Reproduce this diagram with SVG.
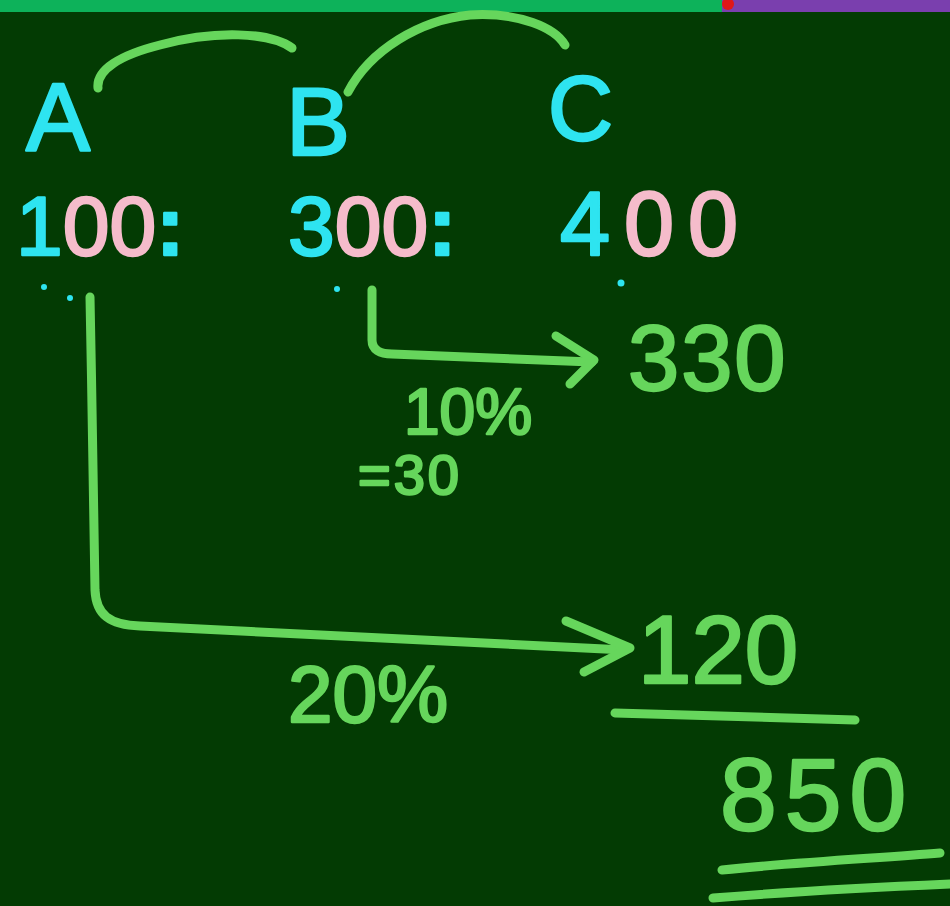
<svg xmlns="http://www.w3.org/2000/svg" width="950" height="906" viewBox="0 0 950 906">
<defs>
<style>
.bg{fill:#033b03}
.ln{fill:none;stroke:#66d65c;stroke-width:9;stroke-linecap:round;stroke-linejoin:round}
.t{font-family:"Liberation Sans","Open Sans",sans-serif;stroke-width:2.5;stroke-linejoin:round}
.cy{fill:#2ee4f0;stroke:#2ee4f0}
.pk{fill:#f5bccb;stroke:#f5bccb}
.gr{fill:#66d65c;stroke:#66d65c}
</style>
</defs>
<rect class="bg" x="0" y="0" width="950" height="906"/>
<rect x="0" y="0" width="722" height="12" fill="#0db25a"/>
<rect x="722" y="0" width="228" height="12" fill="#7a3fae"/>
<circle cx="728" cy="4" r="6" fill="#e01818"/>

<g id="connectors">
<path class="ln" d="M98,88 C96,70 120,55 160,45 C215,30 270,32 292,48"/>
<path class="ln" d="M348,92 C370,50 420,20 470,15 C520,12 555,28 565,45"/>
<path class="ln" d="M90,297 C92,400 94,520 95,590 C96,615 110,625 140,626 L625,650"/>
<path class="ln" d="M566,621 L630,648 L584,672"/>
<path class="ln" d="M372,290 L372,340 C372,350 380,354 392,354 L592,362"/>
<path class="ln" d="M556,336 L594,360 L570,384"/>
<path class="ln" d="M615,713 L855,720"/>
<path class="ln" d="M722,870 C800,862 880,858 940,853"/>
<path class="ln" d="M713,898 C800,891 880,887 950,884"/>
</g>

<g id="node-A">
<text class="t cy" x="26" y="150" font-size="96">A</text>
<text class="t" x="16" y="255" font-size="84"><tspan class="cy">1</tspan><tspan class="pk">00</tspan><tspan class="cy" font-weight="bold">:</tspan></text>
<circle cx="44" cy="287" r="3" fill="#2ee4f0"/>
<circle cx="70" cy="298" r="3" fill="#2ee4f0"/>
</g>

<g id="node-B">
<text class="t cy" x="286" y="155" font-size="96">B</text>
<text class="t" x="288" y="255" font-size="84"><tspan class="cy">3</tspan><tspan class="pk">00</tspan><tspan class="cy" font-weight="bold">:</tspan></text>
<circle cx="337" cy="289" r="3" fill="#2ee4f0"/>
</g>

<g id="node-C">
<text class="t cy" x="548" y="140" font-size="90">C</text>
<text class="t" x="560" y="255" font-size="90" letter-spacing="14"><tspan class="cy">4</tspan><tspan class="pk">00</tspan></text>
<circle cx="621" cy="283" r="3.5" fill="#2ee4f0"/>
</g>

<g id="node-330">
<text class="t gr" x="628" y="390" font-size="92" letter-spacing="2">330</text>
</g>
<g id="label-10">
<text class="t gr" x="404" y="434" font-size="64">10%</text>
<text class="t gr" x="358" y="494" font-size="56" letter-spacing="3">=30</text>
</g>

<g id="node-120">
<text class="t gr" x="638" y="683" font-size="96">120</text>
</g>
<g id="label-20">
<text class="t gr" x="288" y="722" font-size="80">20%</text>
</g>
<g id="node-850">
<text class="t gr" x="720" y="830" font-size="102" letter-spacing="8">850</text>
</g>
</svg>
